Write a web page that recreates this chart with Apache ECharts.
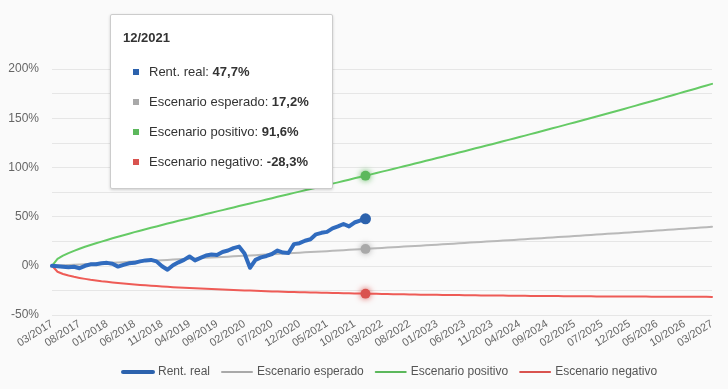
<!DOCTYPE html>
<html>
<head>
<meta charset="utf-8">
<script src="https://cdn.jsdelivr.net/npm/echarts@6/dist/echarts.min.js"></script>
<style>
html,body{margin:0;padding:0;background:#fafafa;}
#c{width:728px;height:389px;}
</style>
</head>
<body>
<div id="c"></div>
<script>
var categories = [
"03/2017","04/2017","05/2017","06/2017","07/2017","08/2017","09/2017","10/2017","11/2017","12/2017",
"01/2018","02/2018","03/2018","04/2018","05/2018","06/2018","07/2018","08/2018","09/2018","10/2018","11/2018","12/2018",
"01/2019","02/2019","03/2019","04/2019","05/2019","06/2019","07/2019","08/2019","09/2019","10/2019","11/2019","12/2019",
"01/2020","02/2020","03/2020","04/2020","05/2020","06/2020","07/2020","08/2020","09/2020","10/2020","11/2020","12/2020",
"01/2021","02/2021","03/2021","04/2021","05/2021","06/2021","07/2021","08/2021","09/2021","10/2021","11/2021","12/2021",
"01/2022","02/2022","03/2022","04/2022","05/2022","06/2022","07/2022","08/2022","09/2022","10/2022","11/2022","12/2022",
"01/2023","02/2023","03/2023","04/2023","05/2023","06/2023","07/2023","08/2023","09/2023","10/2023","11/2023","12/2023",
"01/2024","02/2024","03/2024","04/2024","05/2024","06/2024","07/2024","08/2024","09/2024","10/2024","11/2024","12/2024",
"01/2025","02/2025","03/2025","04/2025","05/2025","06/2025","07/2025","08/2025","09/2025","10/2025","11/2025","12/2025",
"01/2026","02/2026","03/2026","04/2026","05/2026","06/2026","07/2026","08/2026","09/2026","10/2026","11/2026","12/2026",
"01/2027","02/2027","03/2027"
];

var rentReal = [
0,-0.5,-1,-1.5,-1,-2.5,0,1.5,1.5,2.5,3,2,
-0.8,1,2.5,3,4.5,5.5,6,4.5,-0.5,-4,0.5,3.5,
6,9.5,5.5,8,10.5,11.5,11,14,15.5,18,19.5,12.5,
-2,6,8.5,10,12,15.5,13.5,13,22,23,25.5,27,
32,33.5,34.5,38,40,42.5,40,44,46,47.7
];

var escenarioEsperado = [
0,0.3,0.6,0.8,1.1,1.4,1.7,2.0,2.3,2.5,2.8,3.1,
3.4,3.7,4.0,4.3,4.6,4.8,5.1,5.4,5.7,6.0,6.3,6.6,
6.9,7.2,7.5,7.8,8.1,8.4,8.7,9.0,9.3,9.6,9.9,10.2,
10.5,10.8,11.2,11.5,11.8,12.1,12.4,12.7,13.0,13.3,13.7,14.0,
14.3,14.6,14.9,15.3,15.6,15.9,16.2,16.5,16.9,17.2,17.5,17.8,
18.2,18.5,18.8,19.2,19.5,19.8,20.2,20.5,20.8,21.2,21.5,21.9,
22.2,22.5,22.9,23.2,23.6,23.9,24.2,24.6,24.9,25.3,25.6,26.0,
26.3,26.7,27.0,27.4,27.8,28.1,28.5,28.8,29.2,29.5,29.9,30.3,
30.6,31.0,31.4,31.7,32.1,32.5,32.8,33.2,33.6,33.9,34.3,34.7,
35.1,35.4,35.8,36.2,36.6,37.0,37.3,37.7,38.1,38.5,38.9,39.3,
39.7
];

var escenarioPositivo = [
0,7.0,10.3,12.9,15.2,17.3,19.3,21.1,22.9,24.6,26.3,28.0,
29.6,31.1,32.6,34.2,35.7,37.1,38.6,40.0,41.5,42.9,44.3,45.7,
47.1,48.4,49.8,51.2,52.6,53.9,55.3,56.6,58.0,59.3,60.7,62.0,
63.4,64.7,66.0,67.4,68.7,70.1,71.4,72.7,74.1,75.4,76.7,78.1,
79.4,80.8,82.1,83.5,84.8,86.2,87.5,88.9,90.2,91.6,92.9,94.3,
95.7,97.0,98.4,99.8,101.2,102.5,103.9,105.3,106.7,108.1,109.5,110.9,
112.3,113.7,115.1,116.5,117.9,119.4,120.8,122.2,123.6,125.1,126.5,128.0,
129.4,130.9,132.3,133.8,135.3,136.7,138.2,139.7,141.2,142.7,144.2,145.7,
147.2,148.7,150.2,151.7,153.3,154.8,156.3,157.9,159.4,161.0,162.5,164.1,
165.7,167.2,168.8,170.4,172.0,173.6,175.2,176.8,178.4,180.0,181.7,183.3,
184.9
];

var escenarioNegativo = [
0,-6.0,-8.3,-9.9,-11.2,-12.3,-13.3,-14.2,-14.9,-15.7,-16.3,-16.9,
-17.5,-18.0,-18.5,-19.0,-19.4,-19.8,-20.2,-20.6,-21.0,-21.3,-21.7,-22.0,
-22.3,-22.6,-22.9,-23.1,-23.4,-23.7,-23.9,-24.1,-24.4,-24.6,-24.8,-25.0,
-25.2,-25.4,-25.6,-25.8,-26.0,-26.1,-26.3,-26.5,-26.6,-26.8,-26.9,-27.1,
-27.2,-27.3,-27.5,-27.6,-27.7,-27.9,-28.0,-28.1,-28.2,-28.3,-28.4,-28.5,
-28.6,-28.7,-28.8,-28.9,-29.0,-29.1,-29.2,-29.3,-29.4,-29.4,-29.5,-29.6,
-29.7,-29.7,-29.8,-29.9,-30.0,-30.0,-30.1,-30.1,-30.2,-30.3,-30.3,-30.4,
-30.4,-30.5,-30.5,-30.6,-30.6,-30.7,-30.7,-30.8,-30.8,-30.9,-30.9,-30.9,
-31.0,-31.0,-31.0,-31.1,-31.1,-31.1,-31.2,-31.2,-31.2,-31.3,-31.3,-31.3,
-31.3,-31.4,-31.4,-31.4,-31.4,-31.4,-31.5,-31.5,-31.5,-31.5,-31.5,-31.5,
-31.6
];

var seriesNames = ["Rent. real","Escenario esperado","Escenario positivo","Escenario negativo"];
var seriesColors = ["#2c62ad","#a9a9a9","#5cb85c","#d9534f"];
var lineWidths = [4, 2, 2, 2];
var tooltipIndex = 57;

var FONT = "'Liberation Sans', Arial, sans-serif";

function fmt(v){ return v.toFixed(1).replace('.', ',') + '%'; }

function mkSeries(i, data){
  var width = lineWidths[i];
  return {
    name: seriesNames[i],
    type: 'line',
    data: data,
    showSymbol: false,
    symbol: 'circle',
    symbolSize: i === 0 ? 10 : 9,
    smooth: false,
    color: seriesColors[i],
    lineStyle: { width: width, color: seriesColors[i], cap: 'round', join: 'round' },
    itemStyle: { color: seriesColors[i] },
    emphasis: {
      scale: 1.1,
      lineStyle: { width: width },
      itemStyle: { shadowBlur: i === 0 ? 0 : 6, shadowColor: seriesColors[i] }
    },
    z: i === 0 ? 5 : 3
  };
}

var legendData = seriesNames.map(function(n, i){
  return { name: n, lineStyle: { width: lineWidths[i] } };
});

var chart = echarts.init(document.getElementById('c'), null, {renderer: 'canvas'});
chart.setOption({
  animation: false,
  backgroundColor: '#fafafa',
  textStyle: { fontFamily: FONT },
  grid: { left: 52, right: 16, top: 69, bottom: 74, containLabel: false },
  legend: {
    bottom: 6,
    left: 116,
    itemWidth: 30,
    itemHeight: 14,
    itemGap: 11,
    itemStyle: { opacity: 0 },
    textStyle: { color: '#555', fontSize: 12, fontFamily: FONT },
    data: legendData
  },
  tooltip: {
    trigger: 'axis',
    triggerOn: 'none',
    alwaysShowContent: true,
    transitionDuration: 0,
    position: [110, 14],
    backgroundColor: '#ffffff',
    borderColor: '#cccccc',
    borderWidth: 1,
    padding: 0,
    axisPointer: { type: 'line', lineStyle: { color: 'rgba(0,0,0,0)' } },
    extraCssText: 'box-shadow:0 1px 3px rgba(0,0,0,0.18);border-radius:2px;width:223px;box-sizing:border-box;',
    formatter: function(params){
      var idx = params[0].dataIndex;
      var h = '<div style="padding:14px 12px 11px 12px;font-family:' + FONT.replace(/'/g, '') + ';color:#333;">';
      h += '<div style="font-weight:bold;font-size:13px;line-height:18px;margin-bottom:10px;">' + categories[idx] + '</div>';
      params.forEach(function(p){
        h += '<div style="font-size:13px;line-height:30px;height:30px;padding-left:10px;white-space:nowrap;">' +
             '<span style="display:inline-block;width:6px;height:6px;background:' + seriesColors[p.seriesIndex] +
             ';margin-right:10px;vertical-align:middle;position:relative;top:-1px;"></span>' +
             p.seriesName + ': <b>' + fmt(p.value) + '</b></div>';
      });
      h += '</div>';
      return h;
    }
  },
  xAxis: {
    type: 'category',
    data: categories,
    boundaryGap: false,
    axisLine: { show: false },
    axisTick: { show: false },
    splitLine: { show: false },
    axisLabel: {
      interval: 4,
      rotate: 32,
      fontSize: 11,
      color: '#666',
      margin: 8,
      fontFamily: FONT
    }
  },
  yAxis: {
    type: 'value',
    min: -50,
    max: 200,
    interval: 25,
    axisLine: { show: false },
    axisTick: { show: false },
    splitLine: { lineStyle: { color: '#e6e6e6', width: 1 } },
    axisLabel: {
      fontSize: 12,
      color: '#666',
      margin: 13,
      fontFamily: FONT,
      formatter: function(v){ return (v % 50 === 0) ? v + '%' : ''; }
    }
  },
  series: [
    mkSeries(0, rentReal),
    mkSeries(1, escenarioEsperado),
    mkSeries(2, escenarioPositivo),
    mkSeries(3, escenarioNegativo)
  ]
});
chart.dispatchAction({ type: 'showTip', seriesIndex: 0, dataIndex: tooltipIndex });
</script>
</body>
</html>
